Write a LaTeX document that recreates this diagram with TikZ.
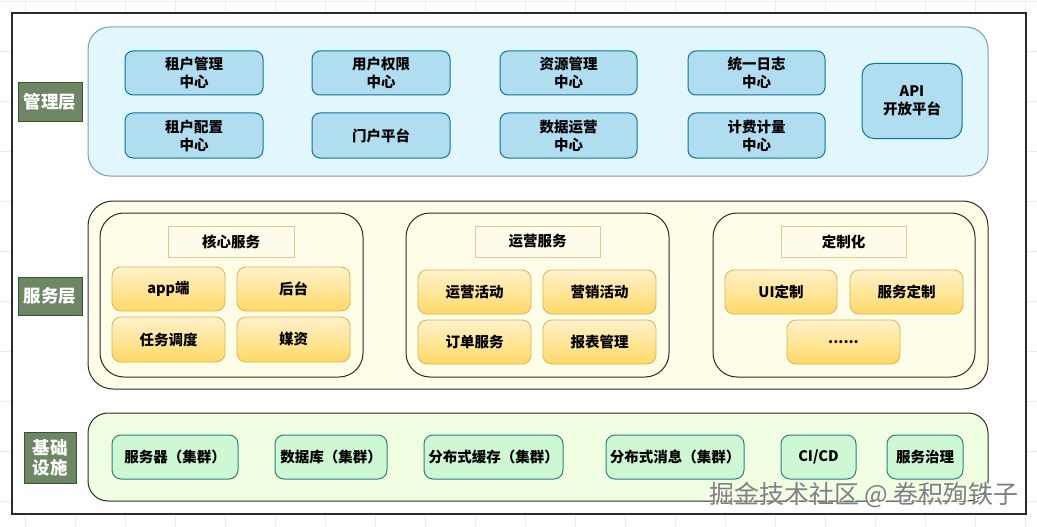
\documentclass[tikz,border=0pt]{standalone}
\usepackage{fontspec}
\setmainfont{Noto Sans CJK SC}
\definecolor{gridc}{HTML}{EDEDED}
\definecolor{mfill}{HTML}{E1F7FC}
\definecolor{mline}{HTML}{7D9FB5}
\definecolor{mbfill}{HTML}{B1DDF0}
\definecolor{mbline}{HTML}{10739E}
\definecolor{lfill}{HTML}{6D8764}
\definecolor{lline}{HTML}{3A5431}
\definecolor{sfill}{HTML}{FFFDE8}
\definecolor{dline}{HTML}{2B2B2B}
\definecolor{tfill}{HTML}{FFFBEA}
\definecolor{tline}{HTML}{DCCB8E}
\definecolor{ytop}{HTML}{FFF2CC}
\definecolor{ybot}{HTML}{FFD966}
\definecolor{yline}{HTML}{D6B656}
\definecolor{bfill}{HTML}{F0FFE1}
\definecolor{gbfill}{HTML}{CEF8D4}
\definecolor{gbline}{HTML}{2E7F80}
\tikzset{
  every node/.style={inner sep=0pt, align=center},
  panel/.style={line width=1pt},
  layerlabel/.style={fill=lfill, draw=lline, line width=0.8pt, text=white, font=\fontsize{17.5}{20}\selectfont\bfseries},
  mbox/.style={fill=mbfill, draw=mbline, line width=1pt, rounded corners=8pt, font=\fontsize{14.5}{18}\selectfont\bfseries},
  titlebox/.style={fill=tfill, draw=tline, line width=1pt, font=\fontsize{14.5}{18}\selectfont\bfseries},
  ybox/.style={top color=ytop, bottom color=ybot, draw=yline, line width=0.8pt, rounded corners=9pt, font=\fontsize{14.5}{18}\selectfont\bfseries},
  gbox/.style={fill=gbfill, draw=gbline, line width=1pt, rounded corners=9pt, font=\fontsize{14.5}{18}\selectfont\bfseries},
  wmark/.style={font=\fontsize{25}{28}\selectfont},
}
\begin{document}
\begin{tikzpicture}[x=1pt,y=-1pt]
\useasboundingbox (0,0) rectangle (1037,527);
\fill[white] (0,0) rectangle (1037,527);
% background grid
\foreach \gx in {25,75,...,1025} \draw[gridc, line width=0.8pt] (\gx,0) -- (\gx,527);
\foreach \gy in {1,51,...,501} \draw[gridc, line width=0.8pt] (0,\gy) -- (1037,\gy);
% outer frame
\draw[fill=white, draw=dline, line width=1.2pt] (12,13) rectangle (1026,514);

% ===== management layer =====
\draw[panel, fill=mfill, draw=mline, rounded corners=22pt] (88,27) rectangle (988,176);
\node[layerlabel, minimum width=64pt, minimum height=39pt] (lm) at (50,101.5) {管理层};
\node[mbox, minimum width=138pt, minimum height=44pt] (m11) at (194,73) {租户管理\\中心};
\node[mbox, minimum width=138pt, minimum height=44pt] (m12) at (381,73) {用户权限\\中心};
\node[mbox, minimum width=137pt, minimum height=44pt] (m13) at (568.5,73) {资源管理\\中心};
\node[mbox, minimum width=137pt, minimum height=44pt] (m14) at (756.5,73) {统一日志\\中心};
\node[mbox, minimum width=138pt, minimum height=45pt] (m21) at (194,135.5) {租户配置\\中心};
\node[mbox, minimum width=138pt, minimum height=45pt] (m22) at (381,135.5) {门户平台};
\node[mbox, minimum width=137pt, minimum height=45pt] (m23) at (568.5,135.5) {数据运营\\中心};
\node[mbox, minimum width=137pt, minimum height=45pt] (m24) at (756.5,135.5) {计费计量\\中心};
\node[mbox, minimum width=100pt, minimum height=75pt, rounded corners=12pt] (api) at (912,101) {API\\开放平台};

% ===== service layer =====
\draw[panel, fill=sfill, draw=dline, rounded corners=25pt] (88,201) rectangle (988,389);
\node[layerlabel, minimum width=64pt, minimum height=38pt] (ls) at (50,296) {服务层};
\draw[panel, fill=sfill, draw=dline, rounded corners=24pt] (100,213) rectangle (363,377);
\draw[panel, fill=sfill, draw=dline, rounded corners=24pt] (406,213) rectangle (669,377);
\draw[panel, fill=sfill, draw=dline, rounded corners=24pt] (713,213) rectangle (975,377);
\node[titlebox, minimum width=126pt, minimum height=31pt] (t1) at (231,241.5) {核心服务};
\node[titlebox, minimum width=125pt, minimum height=31pt] (t2) at (537.5,241.5) {运营服务};
\node[titlebox, minimum width=125pt, minimum height=31pt] (t3) at (843.5,241.5) {定制化};
\node[ybox, minimum width=113pt, minimum height=44pt] (c1) at (168.5,289) {app端};
\node[ybox, minimum width=113pt, minimum height=44pt] (c2) at (293.5,289) {后台};
\node[ybox, minimum width=113pt, minimum height=45pt] (c3) at (168.5,339.5) {任务调度};
\node[ybox, minimum width=113pt, minimum height=45pt] (c4) at (293.5,339.5) {媒资};
\node[ybox, minimum width=113pt, minimum height=44pt] (o1) at (474.5,292) {运营活动};
\node[ybox, minimum width=113pt, minimum height=44pt] (o2) at (599.5,292) {营销活动};
\node[ybox, minimum width=113pt, minimum height=44pt] (o3) at (474.5,342) {订单服务};
\node[ybox, minimum width=113pt, minimum height=44pt] (o4) at (599.5,342) {报表管理};
\node[ybox, minimum width=112pt, minimum height=44pt] (u1) at (781,292) {UI定制};
\node[ybox, minimum width=113pt, minimum height=44pt] (u2) at (906.5,292) {服务定制};
\node[ybox, minimum width=113pt, minimum height=44pt] (u3) at (843.5,342) {......};

% ===== base layer =====
\draw[panel, fill=bfill, draw=dline, rounded corners=20pt] (88,413) rectangle (988,501);
\node[layerlabel, minimum width=52pt, minimum height=51pt] (lb) at (50,457.5) {基础\\设施};
\node[gbox, minimum width=126pt, minimum height=44pt] (b1) at (175,457) {服务器（集群）};
\node[gbox, minimum width=112pt, minimum height=44pt] (b2) at (331,457) {数据库（集群）};
\node[gbox, minimum width=139pt, minimum height=44pt] (b3) at (493.5,457) {分布式缓存（集群）};
\node[gbox, minimum width=138pt, minimum height=44pt] (b4) at (675,457) {分布式消息（集群）};
\node[gbox, minimum width=75pt, minimum height=44pt] (b5) at (818.5,457) {CI/CD};
\node[gbox, minimum width=76pt, minimum height=44pt] (b6) at (925,457) {服务治理};

% watermark
\node[wmark, text=white] (wm2) at (865.5,496.5) {掘金技术社区 @ 卷积殉铁子};
\node[wmark, text=black!50] (wm) at (864,495) {掘金技术社区 @ 卷积殉铁子};
\end{tikzpicture}
\end{document}
